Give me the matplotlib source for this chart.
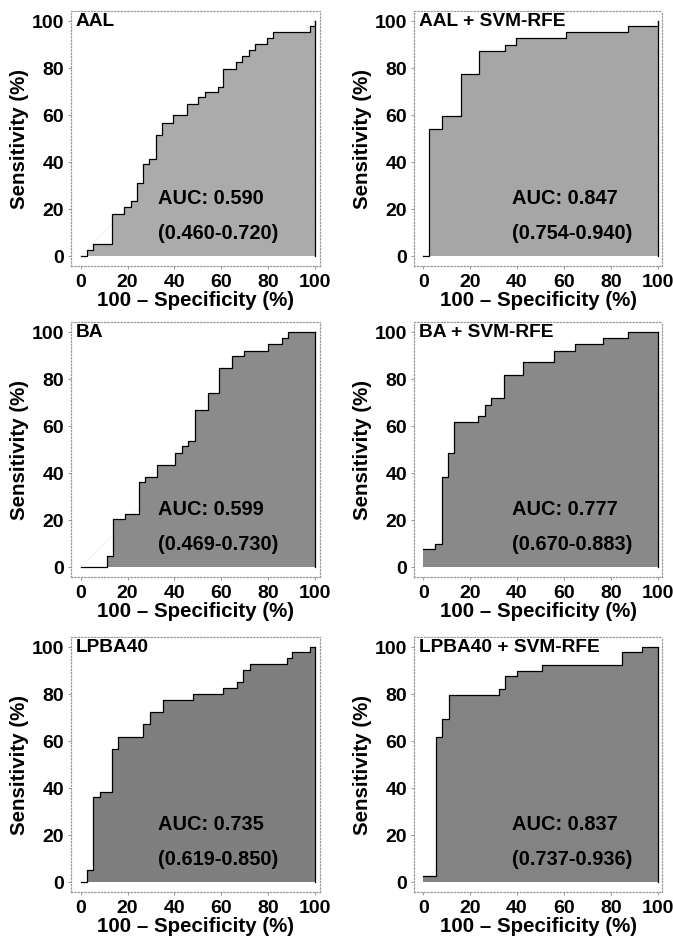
import matplotlib
matplotlib.use("Agg")
import matplotlib.pyplot as plt

plt.rcParams['font.family'] = ['Liberation Sans', 'DejaVu Sans']
plt.rcParams['font.weight'] = 'bold'

# step curves: level y[i] holds from x[i] to x[i+1] (100 - specificity, sensitivity in %)
aal_x = [0, 2.6, 5.4, 13.5, 18.6, 21.3, 24.2, 26.7, 29.3, 32, 34.6, 39.5, 45.2, 50.2,
         53, 58.5, 60.9, 66.1, 69, 71.8, 74.4, 79.4, 82.2, 97.9, 100]
aal_y = [0, 2.6, 5, 18, 20.6, 23.4, 31.2, 39, 41, 51.3, 56.7, 59.9, 64.5, 67.4,
         69.5, 72, 79.4, 82.3, 84.8, 87.7, 90, 92.6, 95, 97.9, 100]

aal_svm_x = [0, 2.6, 7.8, 16, 23.8, 34.8, 39.7, 61, 87.2, 100]
aal_svm_y = [0, 53.9, 59.3, 77.3, 87.2, 89.6, 92.5, 95, 97.9, 100]

ba_x = [0, 11.1, 13.9, 18.9, 24.9, 27.5, 32.7, 40.3, 43.1, 45.9, 48.8, 54.2, 59.2,
        64.4, 69.8, 80.1, 85.8, 88.6, 100]
ba_y = [0, 4.7, 20.2, 22.6, 36, 38.2, 43.4, 48.5, 51.3, 53.7, 66.5, 74, 84.4,
        89.5, 91.9, 94.8, 97.2, 100, 100]

ba_svm_x = [0, 5.1, 7.8, 10.6, 13.2, 23.5, 26.3, 29, 34.4, 42.6, 55.7, 64.6, 76.9, 87.3, 100]
ba_svm_y = [7.5, 9.9, 38.2, 48.5, 61.5, 64.1, 68.9, 71.7, 81.6, 87, 91.9, 94.8, 97.2, 100, 100]

lpba_x = [0, 2.6, 5.4, 8.3, 13.5, 16.1, 26.7, 29.6, 35, 48.1, 60.9, 66.6, 69.4,
          72.3, 87.9, 90, 97.9, 100]
lpba_y = [0, 5, 36, 38.2, 56.7, 61.7, 67.2, 72.1, 77.4, 79.9, 82.3, 85.1, 90,
          92.6, 95, 97.6, 100, 100]

lpba_svm_x = [0, 5.4, 8.2, 10.8, 32.3, 34.9, 40.1, 50.5, 84.8, 93.3, 100]
lpba_svm_y = [2.4, 61.5, 69.3, 79.6, 82, 87.4, 89.8, 92.4, 97.6, 100, 100]

titles = ['AAL', 'AAL + SVM-RFE', 'BA', 'BA + SVM-RFE', 'LPBA40', 'LPBA40 + SVM-RFE']
auc_text = ['AUC: 0.590', 'AUC: 0.847', 'AUC: 0.599', 'AUC: 0.777', 'AUC: 0.735', 'AUC: 0.837']
ci_text = ['(0.460-0.720)', '(0.754-0.940)', '(0.469-0.730)', '(0.670-0.883)',
           '(0.619-0.850)', '(0.737-0.936)']
curves = [(aal_x, aal_y), (aal_svm_x, aal_svm_y), (ba_x, ba_y), (ba_svm_x, ba_svm_y),
          (lpba_x, lpba_y), (lpba_svm_x, lpba_svm_y)]
fills = ['#ababab', '#a6a6a6', '#8b8b8b', '#898989', '#7f7f7f', '#838383']

fig = plt.figure(figsize=(6.73, 9.45), dpi=100)

W, H = 673, 945
col_left = [71.3, 413.9]
row_top = [11.6, 322.6, 637.6]
ax_w, ax_h = 248.4, 255.4

for i, (xs, ys) in enumerate(curves):
    r, c = divmod(i, 2)
    left = col_left[c] / W
    bottom = 1 - (row_top[r] + ax_h) / H
    ax = fig.add_axes([left, bottom, ax_w / W, ax_h / H])

    # chance line, mostly hidden under the fill
    ax.plot([0, 100], [0, 100], ls=':', color='#dddddd', lw=0.7, zorder=1)
    ax.fill_between(xs, ys, 0, step='post', color=fills[i], lw=0, zorder=2)
    ax.step(xs, ys, where='post', color='black', lw=0.9, zorder=3)
    ax.plot([100, 100], [0, ys[-1]], color='black', lw=0.9, zorder=3)

    ax.set_xlim(-4, 102)
    ax.set_ylim(-4.3, 104.3)
    ax.set_xticks([0, 20, 40, 60, 80, 100])
    ax.set_yticks([0, 20, 40, 60, 80, 100])
    ax.tick_params(labelsize=14, length=2, width=0.6, color='#888888', pad=3)
    for lab in ax.get_xticklabels() + ax.get_yticklabels():
        lab.set_fontweight('bold')
    for sp in ax.spines.values():
        sp.set_linestyle(':')
        sp.set_color('#999999')
        sp.set_linewidth(0.9)

    ax.set_xlabel('100 \u2013 Specificity (%)', fontsize=14.8, fontweight='bold', labelpad=0)
    ax.set_ylabel('Sensitivity (%)', fontsize=14.8, fontweight='bold', labelpad=2)

    ax.text(-2, 103.5, titles[i], fontsize=13.8, fontweight='bold', ha='left', va='top',
            zorder=4, bbox=dict(facecolor='white', edgecolor='none', pad=0.5))
    tx = 33 if c == 0 else 38
    ax.text(tx, 25, auc_text[i], fontsize=14.4, fontweight='bold', ha='left', va='center', zorder=4)
    ax.text(tx, 10, ci_text[i], fontsize=14.4, fontweight='bold', ha='left', va='center', zorder=4)

fig.savefig('out.png', dpi=100)
